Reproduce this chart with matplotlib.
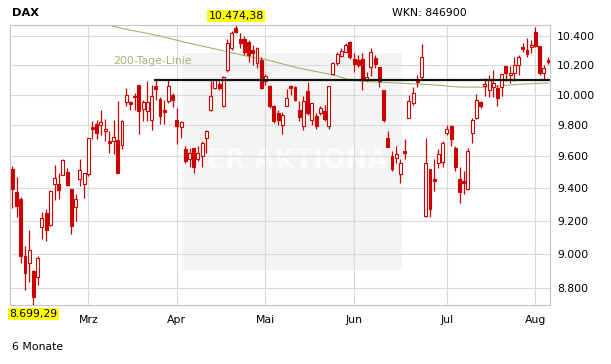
import numpy as np
import matplotlib
matplotlib.use("Agg")
import matplotlib.pyplot as plt
from matplotlib.ticker import NullLocator

# DAX daily candles, trading-day index 0..127 (Feb - early Aug)
opens = [
    9519, 9375, 9332, 8986, 8947, 8895, 8863, 9164, 9244, 9172,
    9429, 9425, 9482, 9503, 9398, 9281, 9460, 9429, 9487, 9790,
    9808, 9802, 9762, 9698, 9698, 9703, 9671, 9955, 9950, 9983,
    10065, 9907, 9892, 9838, 10058, 9975, 9903, 9957, 10001, 9838,
    9791, 9650, 9585, 9656, 9585, 9601, 9718, 9903, 10046, 10073,
    9928, 10167, 10317, 10453, 10375, 10375, 10359, 10302, 10212, 10234,
    10090, 10056, 9924, 9880, 9805, 9924, 10056, 10052, 9903, 9794,
    10023, 9834, 9859, 9883, 9892, 9799, 10140, 10212, 10261, 10290,
    10359, 10238, 10234, 10238, 10104, 10190, 10246, 10185, 10030, 9718,
    9602, 9592, 9487, 9634, 9849, 9946, 10083, 10118, 9226, 9518,
    9460, 9561, 9565, 9751, 9794, 9656, 9456, 9446, 9394, 9751,
    9849, 9950, 10060, 10030, 10052, 10045, 10052, 10194, 10134, 10145,
    10201, 10325, 10302, 10321, 10428, 10332, 10149, 10234]
closes = [
    9397, 9291, 8986, 8884, 9020, 8743, 8974, 9213, 9140, 9384,
    9466, 9390, 9577, 9420, 9168, 9332, 9512, 9497, 9721, 9776,
    9750, 9823, 9779, 9688, 9726, 9498, 9831, 9998, 9942, 9995,
    9892, 9950, 9950, 9990, 10036, 9858, 9885, 10058, 9963, 9799,
    9820, 9571, 9624, 9535, 9624, 9688, 9765, 9990, 10096, 10046,
    10118, 10348, 10417, 10427, 10348, 10290, 10268, 10284, 10313, 10044,
    10124, 9924, 9827, 9838, 9870, 9979, 10045, 9968, 9855, 9957,
    9881, 9948, 9794, 9916, 9842, 10060, 10212, 10274, 10298, 10336,
    10257, 10207, 10201, 10104, 10118, 10290, 10207, 10090, 9834, 9662,
    9518, 9613, 9561, 9624, 9957, 10012, 10095, 10253, 9561, 9274,
    9444, 9613, 9683, 9777, 9709, 9531, 9378, 9431, 9634, 9838,
    9968, 9928, 10073, 10096, 10079, 9979, 10140, 10149, 10145, 10201,
    10253, 10311, 10274, 10336, 10332, 10145, 10178, 10223]
highs = [
    9539, 9468, 9348, 9045, 9140, 8905, 8985, 9253, 9271, 9388,
    9545, 9497, 9586, 9528, 9398, 9363, 9581, 9497, 9721, 9826,
    9838, 9903, 9842, 9762, 9838, 9961, 9838, 10046, 9961, 10012,
    10069, 9968, 10090, 10067, 10100, 9988, 9968, 10100, 10012, 9913,
    9827, 9666, 9656, 9656, 9666, 9698, 9773, 10090, 10100, 10090,
    10123, 10375, 10435, 10474.38, 10418, 10400, 10370, 10336, 10322, 10255,
    10141, 10067, 9935, 9900, 9890, 10040, 10067, 10056, 9957, 9990,
    10083, 9948, 9881, 9924, 9935, 10060, 10223, 10290, 10315, 10350,
    10366, 10279, 10268, 10279, 10155, 10313, 10268, 10190, 10030, 9762,
    9634, 9666, 9581, 9709, 10001, 10052, 10134, 10342, 9718, 9518,
    9581, 9645, 9698, 9805, 9805, 9666, 9535, 9508, 9656, 9849,
    10008, 9961, 10112, 10134, 10167, 10067, 10140, 10194, 10194, 10257,
    10268, 10352, 10382, 10370, 10463, 10332, 10201, 10257]
lows = [
    9275, 9220, 8947, 8785, 8834, 8699.29, 8818, 9089, 9079, 9170,
    9328, 9332, 9480, 9415, 9119, 9200, 9415, 9336, 9477, 9709,
    9709, 9735, 9698, 9621, 9613, 9498, 9645, 9928, 9903, 9903,
    9742, 9831, 9831, 9768, 9968, 9812, 9812, 9946, 9920, 9677,
    9718, 9561, 9535, 9493, 9571, 9535, 9624, 9892, 10037, 10030,
    9920, 10155, 10302, 10418, 10315, 10268, 10221, 10201, 10180, 10036,
    10067, 9914, 9818, 9805, 9741, 9924, 10001, 9957, 9831, 9773,
    9870, 9805, 9778, 9870, 9831, 9778, 10134, 10201, 10255, 10288,
    10238, 10155, 10190, 10034, 10095, 10127, 10178, 10052, 9821, 9662,
    9508, 9561, 9435, 9581, 9849, 9935, 10051, 10104, 9220, 9220,
    9384, 9529, 9535, 9735, 9666, 9508, 9307, 9363, 9390, 9688,
    9842, 9914, 9990, 9988, 9988, 9924, 9990, 10090, 10079, 10090,
    10134, 10290, 10257, 10281, 10325, 10134, 10100, 10207]

# 200-day line, read at a few points (index, value)
ma_idx = [22, 26.7, 30.3, 35.0, 40.4, 48.4, 56.3, 59.9, 68.2, 76.0, 80.0,
          84.0, 91.9, 99.7, 106.1, 111.5, 115.6, 119.8, 125.8, 127]
ma_val = [10480, 10446, 10426, 10398, 10359, 10307, 10256, 10238, 10177, 10134,
          10100, 10089, 10078, 10067, 10052, 10051, 10060, 10070, 10078, 10080]

# resistance line
res_start = 33.7
res_level = 10100

month_idx = [18, 39, 60, 81, 103, 124]
month_labels = ["Mrz", "Apr", "Mai", "Jun", "Jul", "Aug"]
y_ticks = [8800, 9000, 9200, 9400, 9600, 9800, 10000, 10200, 10400]
y_labels = ["8.800", "9.000", "9.200", "9.400", "9.600", "9.800",
            "10.000", "10.200", "10.400"]
low_idx, low_val, low_txt = 5, 8699.29, "8.699,29"
high_idx, high_val, high_txt = 53, 10474.38, "10.474,38"

RED = "#cc0000"
plt.rcParams["font.family"] = ["DejaVu Sans"]

fig = plt.figure(figsize=(6.11, 3.64), dpi=100)
ax = fig.add_axes([10 / 611, 59 / 364, 540 / 611, 280 / 364])
ax.set_yscale("log")
ax.set_ylim(low_val, high_val)
ax.set_xlim(-0.55, 127.45)

# watermark
ax.add_patch(plt.Rectangle((0.32, 0.125), 0.406, 0.775, transform=ax.transAxes,
                           facecolor="#f4f4f4", edgecolor="none", zorder=0))
ax.text(0.53, 0.515, "DER AKTIONÄR", transform=ax.transAxes, ha="center",
        va="center", fontsize=19, fontweight="bold", color="#fbfbfb", zorder=0.2)

# grid
for v in y_ticks:
    ax.axhline(v, color="#dadada", lw=0.8, zorder=0.5)
for m in month_idx:
    ax.axvline(m, color="#dadada", lw=0.8, zorder=0.5)

o = np.array(opens, float)
c = np.array(closes, float)
h = np.array(highs, float)
l = np.array(lows, float)
x = np.arange(len(o))
up = c >= o

# 200-day line
ax.plot(ma_idx, ma_val, color="#9fb46e", lw=0.8, zorder=1)
ax.text(23.8, 10225, "200-Tage-Linie", color="#a2b574", fontsize=7.8,
        va="center", ha="left", zorder=1)

ax.vlines(x, l, h, color=RED, lw=0.9, zorder=2)
bottom = np.minimum(o, c)
height = np.maximum(np.abs(c - o), 1.0)
ax.bar(x[up], height[up], bottom=bottom[up], width=0.7, facecolor="white",
       edgecolor=RED, linewidth=0.8, zorder=3)
ax.bar(x[~up], height[~up], bottom=bottom[~up], width=0.7, facecolor=RED,
       edgecolor=RED, linewidth=0.8, zorder=3)

ax.hlines(res_level, res_start, 127.45, color="#111111", lw=1.6, zorder=4)

# axes cosmetics
for s in ax.spines.values():
    s.set_color("#c4c4c4")
    s.set_linewidth(0.8)
ax.yaxis.tick_right()
ax.yaxis.set_minor_locator(NullLocator())
ax.set_yticks(y_ticks)
ax.set_yticklabels(y_labels)
ax.set_xticks(month_idx)
ax.set_xticklabels(month_labels)
ax.tick_params(axis="both", length=0, labelsize=7.8, colors="black")
ax.tick_params(axis="x", pad=7)
ax.tick_params(axis="y", pad=5)

# extremes
ax.annotate(high_txt, (high_idx, high_val), xytext=(0, 3), textcoords="offset points",
            ha="center", va="bottom", fontsize=7.8, annotation_clip=False,
            bbox=dict(boxstyle="square,pad=0.12", fc="#ffff00", ec="none"))
ax.annotate(low_txt, (low_idx, low_val), xytext=(0, -3), textcoords="offset points",
            ha="center", va="top", fontsize=7.8, annotation_clip=False,
            bbox=dict(boxstyle="square,pad=0.12", fc="#ffff00", ec="none"))

fig.text(12 / 611, 1 - 13 / 364, "DAX", fontsize=8.2, fontweight="bold",
         va="center", ha="left")
fig.text(392 / 611, 1 - 13 / 364, "WKN: 846900", fontsize=7.8,
         va="center", ha="left")
fig.text(12 / 611, 1 - 347 / 364, "6 Monate", fontsize=7.8,
         va="center", ha="left")

fig.savefig("out.png", dpi=100)
